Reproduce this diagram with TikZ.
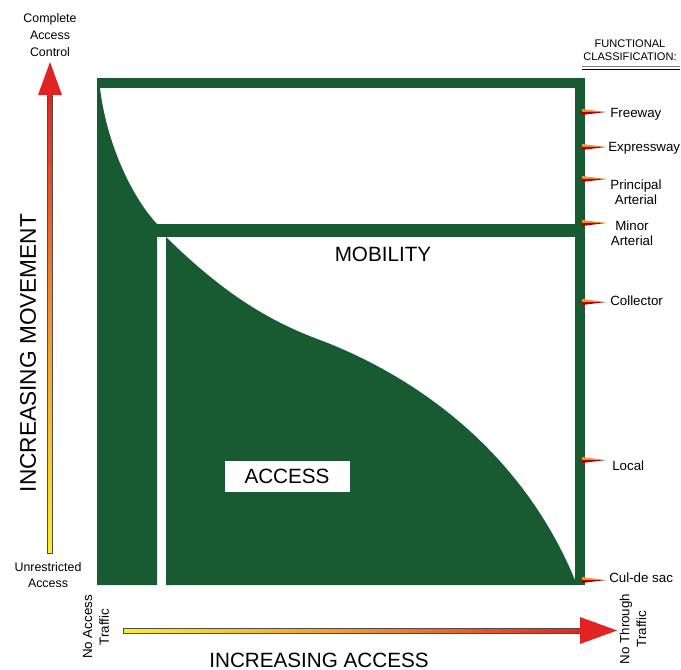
\documentclass[tikz,border=0pt]{standalone}
\usepackage{fontspec}
\setmainfont{Liberation Sans}
\definecolor{dg}{RGB}{24,90,50}
\definecolor{arrred}{RGB}{225,35,35}
\definecolor{arrorange}{RGB}{240,150,50}
\definecolor{arryellow}{RGB}{250,240,40}
\begin{document}
\begin{tikzpicture}[x=0.75pt,y=-0.75pt,
  small/.style={font=\fontsize{9.3}{12.5}\selectfont, align=center, inner sep=0pt},
  rlabel/.style={font=\fontsize{10}{11.5}\selectfont, align=center, inner sep=0pt},
  big/.style={font=\fontsize{15.5}{18}\selectfont, inner sep=0pt},
  tiny/.style={font=\fontsize{8.3}{9.8}\selectfont, align=center, inner sep=0pt},
  arrline/.style={draw=black!70, line width=0.4pt}]
\useasboundingbox (0,0) rectangle (681,670);

% ---------- green chart ----------
\fill[dg] (97,78) -- (100,88) .. controls (106,140) and (130,195) .. (157,224)
  -- (157,585) -- (97,585) -- cycle;
\fill[dg] (97,78) rectangle (585,88);
\fill[dg] (575,78) rectangle (585,585);
\fill[dg] (157,224) rectangle (585,237);
\fill[dg] (166,237) .. controls (215,285) and (260,318) .. (320,340)
  .. controls (420,378) and (525,455) .. (577,585) -- (166,585) -- cycle;

% inner labels
\node[big] (mob) at (383,254) {MOBILITY};
\node[big, fill=white, minimum width=93.75pt, minimum height=23.25pt] (acc) at (287,476.5) {ACCESS};

% ---------- ticks on the right ----------
\foreach \yy in {112,147,179,223,302,460,580} {
  \fill[arrorange] (582,\yy-3) -- (606,\yy) -- (582,\yy) -- cycle;
  \fill[red!70!black] (582,\yy) -- (606,\yy) -- (582,\yy+3) -- cycle;
}
\node[rlabel, anchor=west] (fw) at (610,114) {Freeway};
\node[rlabel, anchor=west] (ex) at (608,148) {Expressway};
\node[rlabel] (pa) at (636,192) {Principal\\Arterial};
\node[rlabel] (ma) at (632,233) {Minor\\Arterial};
\node[rlabel, anchor=west] (co) at (610,301) {Collector};
\node[rlabel, anchor=west] (lo) at (612,466) {Local};
\node[rlabel, anchor=west] (cd) at (609,578) {Cul-de sac};

% header
\node[tiny] (fc) at (630,50) {FUNCTIONAL\\CLASSIFICATION:};
\draw[black!50, line width=0.4pt] (582,66.5) -- (680,66.5);
\draw[black, line width=1.2pt] (582,69.5) -- (680,69.5);

% ---------- vertical arrow ----------
\node[small] (cac) at (50,35) {Complete\\Access\\Control};
\node[small] (ua) at (48,575) {Unrestricted\\Access};
\coordinate (vtip) at (50,62);
\coordinate (vbot) at (50,553);
\shade[top color=arrred, bottom color=arryellow, middle color=arrorange]
  (47.5,94) rectangle (52.5,553);
\draw[arrline] (47.5,94) -- (47.5,553) -- (52.5,553) -- (52.5,94);
\fill[arrred] (vtip) -- (62,95) -- (38,95) -- cycle;
\node[big, rotate=90, font=\fontsize{17}{20}\selectfont] (im) at (28,353) {INCREASING MOVEMENT};

% ---------- horizontal arrow ----------
\coordinate (htip) at (617,630.5);
\shade[left color=arryellow, right color=arrred, middle color=arrorange]
  (123,628) rectangle (582,633);
\draw[arrline] (582,628) -- (123,628) -- (123,633) -- (582,633);
\fill[arrred] (htip) -- (580,617) -- (580,644) -- cycle;
\node[small, rotate=90, font=\fontsize{10}{12.5}\selectfont] (nat) at (96,627) {No Access\\Traffic};
\node[small, rotate=90, font=\fontsize{10}{12.5}\selectfont] (ntt) at (633,629) {No Through\\Traffic};
\node[big] (ia) at (319,660) {INCREASING ACCESS};
\end{tikzpicture}
\end{document}
